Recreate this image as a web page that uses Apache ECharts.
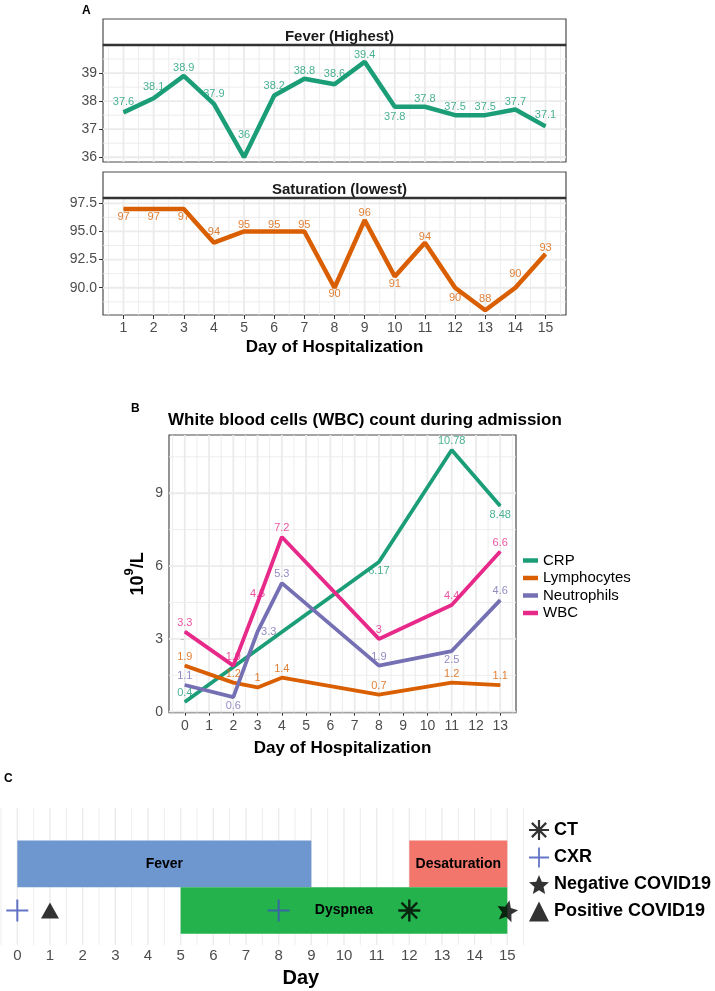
<!DOCTYPE html>
<html><head><meta charset="utf-8">
<script src="https://cdn.jsdelivr.net/npm/echarts@6/dist/echarts.min.js"></script>
<style>html,body{margin:0;padding:0;background:#fff}#c{width:715px;height:991px}</style>
</head><body><div id="c"></div>
<script>
const FONT = '"Liberation Sans", Arial, Helvetica, sans-serif';

// ---------- Panel A data ----------
const daysA = [1,2,3,4,5,6,7,8,9,10,11,12,13,14,15];
const feverHighest = [37.6,38.1,38.9,37.9,36,38.2,38.8,38.6,39.4,37.8,37.8,37.5,37.5,37.7,37.1];
const satLowest = [97,97,97,94,95,95,95,90,96,91,94,90,88,90,93];
const xTicksA = [1,2,3,4,5,6,7,8,9,10,11,12,13,14,15];
const xMinorA = [0.5,1.5,2.5,3.5,4.5,5.5,6.5,7.5,8.5,9.5,10.5,11.5,12.5,13.5,14.5,15.5];
const feverTicks = [36,37,38,39];
const feverMinor = [36.5,37.5,38.5,39.5];
const satTicks = [90,92.5,95,97.5];
const satMinor = [88.75,91.25,93.75,96.25];

// ---------- Panel B data ----------
const labDays = [0,2,3,4,8,11,13];
const crpDays = [0,8,11,13];
const crp = [0.4,6.17,10.78,8.48];
const lymphocytes = [1.9,1.2,1,1.4,0.7,1.2,1.1];
const neutrophils = [1.1,0.6,3.3,5.3,1.9,2.5,4.6];
const wbc = [3.3,1.9,4.5,7.2,3,4.4,6.6];
const xTicksB = [0,1,2,3,4,5,6,7,8,9,10,11,12,13];
const xMinorB = [-0.5,0.5,1.5,2.5,3.5,4.5,5.5,6.5,7.5,8.5,9.5,10.5,11.5,12.5,13.5];
const yTicksB = [0,3,6,9];
const yMinorB = [1.5,4.5,7.5,10.5];

// ---------- Panel C data ----------
const symptomNames = ['Fever','Desaturation','Dyspnea'];
const symptomStart = [0,12,5];
const symptomEnd = [9,15,15];
const symptomRow = [2,2,1];
const cxrDays = [0,8];
const ctDays = [12];
const negDays = [15];
const posDays = [1];
const eventRow = 1;
const xTicksC = [0,1,2,3,4,5,6,7,8,9,10,11,12,13,14,15];
const xMinorC = [-0.5,0.5,1.5,2.5,3.5,4.5,5.5,6.5,7.5,8.5,9.5,10.5,11.5,12.5,13.5,14.5,15.5];

// ---------- styles ----------
const GREEN = '#1B9E77', ORANGE = '#D95F02', PURPLE = '#7570B3', PINK = '#E7298A';
const barColors = ['#6E96CF','#F3766C','#23B24C'];
const CXR_BLUE = '#3D52B6';
const feverLabelPos = ['top','top','top','top','top','top','top','top','top','bottom','top','top','top','top','top'];
const feverLabelDist = [4,5,2,4,16,4,2,4,1,4,2,2,2,2,5];
const satLabelPos = ['bottom','bottom','bottom','top','top','top','top','bottom','top','bottom','top','bottom','top','top','top'];
const satLabelDist = [2,2,2,5,0,0,0,0,1,1,0,4,5,8,0];
const crpLabelPos = ['top','bottom','top','bottom'];
const lymLabelPos = ['top','top','top','top','top','top','top'];
const neuLabelPos = ['top','bottom','right','top','top','bottom','top'];
const wbcLabelPos = ['top','top','top','top','top','top','top'];

const ASTERISK = 'path://M10.8,1L13.2,1L13.2,23L10.8,23Z M1,10.8L23,10.8L23,13.2L1,13.2Z M3.3,5L5,3.3L20.7,19L19,20.7Z M19,3.3L20.7,5L5,20.7L3.3,19Z';
const PLUS = 'path://M11,1L13,1L13,23L11,23Z M1,11L23,11L23,13L1,13Z';
const STAR = 'path://M12,0L15.2,7.6L23.41,8.29L17.2,13.7L19.05,21.71L12,17.5L4.95,21.71L6.8,13.7L0.59,8.29L8.8,7.6Z';

function gridLines(xi, yi, xs, ys, width, anchor) {
  return {
    type: 'custom', xAxisIndex: xi, yAxisIndex: yi, silent: true, z: 1,
    data: [anchor], clip: true,
    renderItem: function (params, api) {
      const cs = params.coordSys;
      const ch = [];
      xs.forEach(v => {
        const px = api.coord([v, anchor[1]])[0];
        ch.push({type:'line', shape:{x1:px, y1:cs.y, x2:px, y2:cs.y+cs.height}, style:{stroke:'#EBEBEB', lineWidth:width}});
      });
      ys.forEach(v => {
        const py = api.coord([anchor[0], v])[1];
        ch.push({type:'line', shape:{x1:cs.x, y1:py, x2:cs.x+cs.width, y2:py}, style:{stroke:'#EBEBEB', lineWidth:width}});
      });
      return {type:'group', children: ch};
    }
  };
}

// line + separate label layer drawn above the lines
function lineSeries(name, xi, yi, xs, ys, pos, color, width, dist) {
  return [{
    type: 'line', name: name, xAxisIndex: xi, yAxisIndex: yi, z: 3,
    data: xs.map((d, i) => [d, ys[i]]),
    symbol: 'none', showSymbol: false,
    itemStyle: {color: color},
    lineStyle: {color: color, width: width},
    emphasis: {disabled: true}
  }, {
    type: 'scatter', name: name + ' labels', xAxisIndex: xi, yAxisIndex: yi, z: 5,
    data: xs.map((d, i) => ({value: [d, ys[i]],
      label: {position: pos[i], distance: Array.isArray(dist) ? dist[i] : dist}})),
    symbol: 'circle', symbolSize: 1, itemStyle: {color: color},
    label: {show: true, color: color, fontSize: 11, fontFamily: FONT,
            formatter: p => String(p.value[1])},
    labelLayout: {hideOverlap: false},
    emphasis: {disabled: true}, silent: true
  }];
}

const tickStyle = {show: true, length: 4, inside: false, lineStyle: {color: '#333', width: 1}};
const lblStyle = {color: '#4D4D4D', fontSize: 14, fontFamily: FONT};

const option = {
  animation: false,
  backgroundColor: '#fff',
  textStyle: {fontFamily: FONT},
  title: [
    {text: 'Fever (Highest)', left: 334.5, top: 32, textAlign: 'center', textVerticalAlign: 'middle',
     textStyle: {fontSize: 15, fontWeight: 'bold', color: '#1A1A1A', fontFamily: FONT}},
    {text: 'Saturation (lowest)', left: 334.5, top: 185, textAlign: 'center', textVerticalAlign: 'middle',
     textStyle: {fontSize: 15, fontWeight: 'bold', color: '#1A1A1A', fontFamily: FONT}},
    {text: 'White blood cells (WBC) count during admission', left: 168, top: 412, padding: 0,
     textStyle: {fontSize: 17, fontWeight: 'bold', color: '#000', fontFamily: FONT}}
  ],
  graphic: [
    {type:'text', left: 82, top: 5, style:{text:'A', font:'bold 12px ' + FONT, fill:'#000'}},
    {type:'text', left: 131, top: 403, style:{text:'B', font:'bold 12px ' + FONT, fill:'#000'}},
    {type:'text', left: 4, top: 773, style:{text:'C', font:'bold 12px ' + FONT, fill:'#000'}},
    {type:'rect', shape:{x:103, y:19, width:463, height:26}, style:{fill:'#fff', stroke:'#4D4D4D', lineWidth:1.2}, z: -1},
    {type:'rect', shape:{x:103, y:172, width:463, height:26}, style:{fill:'#fff', stroke:'#4D4D4D', lineWidth:1.2}, z: -1},
    {type:'line', shape:{x1:103, y1:45, x2:566, y2:45}, style:{stroke:'#333', lineWidth:2.4}, z: 10},
    {type:'line', shape:{x1:103, y1:198, x2:566, y2:198}, style:{stroke:'#333', lineWidth:2.4}, z: 10}
  ],
  legend: [
    {data: ['CRP','Lymphocytes','Neutrophils','WBC'], orient: 'vertical', left: 523, top: 552,
     icon: 'rect', itemWidth: 15, itemHeight: 4.5, itemGap: 0.5, padding: 0, selectedMode: false,
     textStyle: {fontSize: 15, color: '#000', fontFamily: FONT, lineHeight: 17}},
    {data: ['CT','CXR','Negative COVID19','Positive COVID19'], orient: 'vertical', left: 529, top: 820,
     itemWidth: 20, itemHeight: 20, itemGap: 7.5, padding: 0, selectedMode: false,
     textStyle: {fontSize: 18, fontWeight: 'bold', color: '#000', fontFamily: FONT}}
  ],
  grid: [
    {left: 103, width: 463, top: 45, height: 117, show: true, backgroundColor: '#fff', borderColor: '#4D4D4D', borderWidth: 1.2},
    {left: 103, width: 463, top: 198, height: 117, show: true, backgroundColor: '#fff', borderColor: '#4D4D4D', borderWidth: 1.2},
    {left: 169, width: 347, top: 435, height: 277.7, show: true, backgroundColor: '#fff', borderColor: '#4D4D4D', borderWidth: 1.2},
    {left: 0, width: 531.8, top: 808, height: 137, show: false}
  ],
  xAxis: [
    {type:'value', gridIndex:0, min:0.32, max:15.68, axisLine:{show:false}, axisTick:{show:false},
     axisLabel:{show:false}, splitLine:{show:false}},
    {type:'value', gridIndex:1, min:0.32, max:15.68, axisLine:{show:false},
     axisTick: Object.assign({customValues: xTicksA}, tickStyle),
     axisLabel: Object.assign({customValues: xTicksA, margin: 6}, lblStyle), splitLine:{show:false},
     name: 'Day of Hospitalization', nameLocation: 'middle', nameGap: 24,
     nameTextStyle: {fontSize: 17, fontWeight: 'bold', color: '#000', fontFamily: FONT}},
    {type:'value', gridIndex:2, min:-0.65, max:13.65, axisLine:{show:false},
     axisTick: Object.assign({customValues: xTicksB}, tickStyle),
     axisLabel: Object.assign({customValues: xTicksB, margin: 6}, lblStyle), splitLine:{show:false},
     name: 'Day of Hospitalization', nameLocation: 'middle', nameGap: 27,
     nameTextStyle: {fontSize: 17, fontWeight: 'bold', color: '#000', fontFamily: FONT}},
    {type:'value', gridIndex:3, min:-0.53, max:15.75, axisLine:{show:false}, axisTick:{show:false},
     axisLabel: Object.assign({customValues: xTicksC, margin: 3}, lblStyle, {fontSize: 15}), splitLine:{show:false},
     name: 'Day', nameLocation: 'middle', nameGap: 23,
     nameTextStyle: {fontSize: 20, fontWeight: 'bold', color: '#000', fontFamily: FONT, padding: [0,0,0,70]}}
  ],
  yAxis: [
    {type:'value', gridIndex:0, min:35.83, max:40.0, axisLine:{show:false},
     axisTick: Object.assign({customValues: feverTicks}, tickStyle),
     axisLabel: Object.assign({customValues: feverTicks, margin: 6}, lblStyle), splitLine:{show:false}},
    {type:'value', gridIndex:1, min:87.58, max:97.97, axisLine:{show:false},
     axisTick: Object.assign({customValues: satTicks}, tickStyle),
     axisLabel: Object.assign({customValues: satTicks, margin: 6, formatter: v => v.toFixed(1)}, lblStyle), splitLine:{show:false}},
    {type:'value', gridIndex:2, min:-0.04, max:11.4, axisLine:{show:false},
     axisTick: Object.assign({customValues: yTicksB}, tickStyle),
     axisLabel: Object.assign({customValues: yTicksB, margin: 6}, lblStyle), splitLine:{show:false},
     name: '{a|10}{b|9}{a|/L}', nameLocation: 'middle', nameGap: 22,
     nameTextStyle: {rich: {
       a: {fontSize: 18, fontWeight: 'bold', color: '#000', fontFamily: FONT, lineHeight: 24, verticalAlign: 'bottom'},
       b: {fontSize: 13, fontWeight: 'bold', color: '#000', fontFamily: FONT, lineHeight: 24, verticalAlign: 'top'}
     }}},
    {type:'value', gridIndex:3, min:0.26, max:3.2, show: false}
  ],
  series: [].concat(
    gridLines(0, 0, xMinorA, feverMinor, 0.9, [xTicksA[0], feverTicks[0]]),
    gridLines(0, 0, xTicksA, feverTicks, 1.8, [xTicksA[0], feverTicks[0]]),
    gridLines(1, 1, xMinorA, satMinor, 0.9, [xTicksA[0], satTicks[0]]),
    gridLines(1, 1, xTicksA, satTicks, 1.8, [xTicksA[0], satTicks[0]]),
    gridLines(2, 2, xMinorB, yMinorB, 0.9, [xTicksB[0], yTicksB[1]]),
    gridLines(2, 2, xTicksB, yTicksB, 1.8, [xTicksB[0], yTicksB[1]]),
    gridLines(3, 3, xMinorC, [], 0.9, [xTicksC[1], eventRow]),
    gridLines(3, 3, xTicksC, [], 1.3, [xTicksC[1], eventRow]),

    lineSeries('Fever', 0, 0, daysA, feverHighest, feverLabelPos, GREEN, 4.5, feverLabelDist),
    lineSeries('Saturation', 1, 1, daysA, satLowest, satLabelPos, ORANGE, 4.5, satLabelDist),

    lineSeries('CRP', 2, 2, crpDays, crp, crpLabelPos, GREEN, 3.8, 3),
    lineSeries('Lymphocytes', 2, 2, labDays, lymphocytes, lymLabelPos, ORANGE, 3.8, 3),
    lineSeries('Neutrophils', 2, 2, labDays, neutrophils, neuLabelPos, PURPLE, 3.8, 3),
    lineSeries('WBC', 2, 2, labDays, wbc, wbcLabelPos, PINK, 3.8, 3),

    [{type: 'custom', name: 'Symptoms', xAxisIndex: 3, yAxisIndex: 3, z: 2,
     dimensions: ['start','end','row'], encode: {x: [0,1], y: 2},
     data: symptomNames.map((n, i) => [symptomStart[i], symptomEnd[i], symptomRow[i]]),
     renderItem: function (params, api) {
       const s = api.coord([api.value(0), api.value(2) + 0.5]);
       const e = api.coord([api.value(1), api.value(2) - 0.5]);
       return {type: 'group', children: [
         {type: 'rect', shape: {x: s[0], y: s[1], width: e[0] - s[0], height: e[1] - s[1]},
          style: {fill: barColors[params.dataIndex]}},
         {type: 'text', x: (s[0] + e[0]) / 2, y: (s[1] + e[1]) / 2,
          style: {text: symptomNames[params.dataIndex], fill: '#000', font: 'bold 14px ' + FONT,
                  align: 'center', verticalAlign: 'middle'}}
       ]};
     }},
    {type: 'scatter', name: 'CT', xAxisIndex: 3, yAxisIndex: 3, z: 4, symbol: ASTERISK, symbolSize: 22,
     itemStyle: {color: '#000'}, data: ctDays.map(d => [d, eventRow])},
    {type: 'scatter', name: 'CXR', xAxisIndex: 3, yAxisIndex: 3, z: 4, symbol: PLUS, symbolSize: 22,
     itemStyle: {color: CXR_BLUE}, data: cxrDays.map(d => [d, eventRow])},
    {type: 'scatter', name: 'Negative COVID19', xAxisIndex: 3, yAxisIndex: 3, z: 4, symbol: STAR, symbolSize: 21,
     symbolRotate: -12, itemStyle: {color: '#000'}, data: negDays.map(d => [d, eventRow])},
    {type: 'scatter', name: 'Positive COVID19', xAxisIndex: 3, yAxisIndex: 3, z: 4, symbol: 'triangle', symbolSize: [18, 16],
     itemStyle: {color: '#000'}, data: posDays.map(d => [d, eventRow])}]
  )
};

const chart = echarts.init(document.getElementById('c'), null, {renderer: 'canvas'});
chart.setOption(option);
</script>
</body></html>
